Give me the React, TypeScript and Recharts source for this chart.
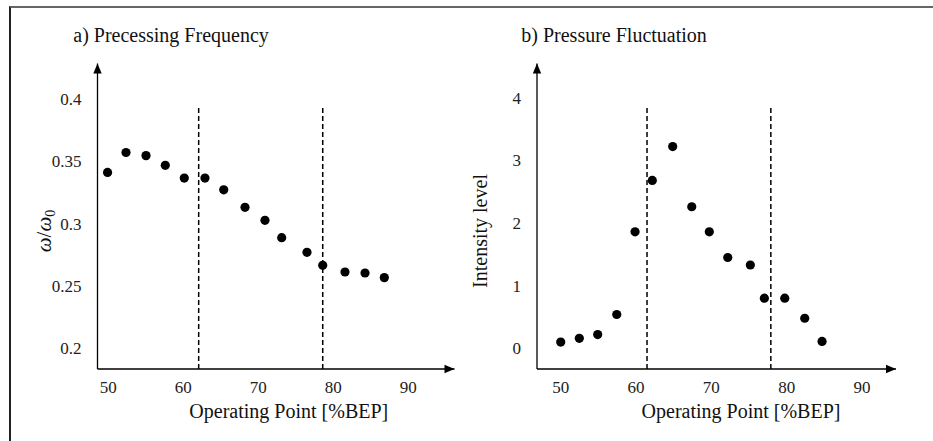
import React from 'react';
import { ScatterChart, Scatter, XAxis, YAxis, ReferenceLine, ReferenceDot, Label } from 'recharts';

// Panel a) Precessing Frequency
const freqX = [49.9, 52.36, 55.03, 57.6, 60.13, 62.89, 65.39, 68.23, 70.89, 73.12, 76.49, 78.59, 81.56, 84.23, 86.8];
const freqY = [0.341, 0.357, 0.3545, 0.3467, 0.3365, 0.3365, 0.327, 0.313, 0.3025, 0.2886, 0.2768, 0.2664, 0.261, 0.2602, 0.2565];
const freqXTicks = [50, 60, 70, 80, 90];
const freqYTicks = [0.2, 0.25, 0.3, 0.35, 0.4];
const freqDashes = [62.05, 78.59];
const freqDashTop = 0.3936;

// Panel b) Pressure Fluctuation
const pressX = [50.0, 52.47, 54.91, 57.44, 59.87, 62.16, 64.87, 67.4, 69.73, 72.18, 75.18, 77.04, 79.75, 82.4, 84.7];
const pressY = [0.1, 0.16, 0.22, 0.54, 1.86, 2.68, 3.22, 2.26, 1.86, 1.45, 1.33, 0.8, 0.8, 0.48, 0.11];
const pressXTicks = [50, 60, 70, 80, 90];
const pressYTicks = [0, 1, 2, 3, 4];
const pressDashes = [61.46, 77.9];
const pressDashTop = 3.86;

const FONT = 'Liberation Serif, DejaVu Serif, serif';
const fontStyle = { fontFamily: FONT };

const Dot = (p: any) => <circle cx={p.cx} cy={p.cy} r={4.6} fill="#000" />;

const ArrowRight = (p: any) => (
  <polygon points={`${p.cx},${p.cy} ${p.cx - 10},${p.cy - 4.2} ${p.cx - 10},${p.cy + 4.2}`} fill="#000" />
);
const ArrowUp = (p: any) => (
  <polygon points={`${p.cx},${p.cy} ${p.cx - 4.2},${p.cy + 10} ${p.cx + 4.2},${p.cy + 10}`} fill="#000" />
);

type PanelProps = {
  left: number;
  title: string;
  titleX: number;
  xs: number[];
  ys: number[];
  xTicks: number[];
  yTicks: number[];
  xDomain: [number, number];
  yDomain: [number, number];
  dashes: number[];
  dashTop: number;
  marginLeft: number;
  marginRight: number;
  xLabelOffset: number;
  yLabel: 'omega' | 'intensity';
  yLabelX: number;
};

const Panel = (pp: PanelProps) => {
  const data = pp.xs.map((x, i) => ({ x, y: pp.ys[i] }));
  const yLabelContent = () => {
    const cx = pp.yLabelX;
    const cy = 231;
    if (pp.yLabel === 'omega') {
      return (
        <text
          x={cx}
          y={cy}
          transform={`rotate(-90, ${cx}, ${cy})`}
          textAnchor="middle"
          style={fontStyle}
          fontSize={21}
          fill="#111"
        >
          <tspan fontStyle="italic">ω</tspan>
          <tspan>/</tspan>
          <tspan fontStyle="italic">ω</tspan>
          <tspan fontSize={14} dy={4}>0</tspan>
        </text>
      );
    }
    return (
      <text
        x={cx}
        y={cy}
        transform={`rotate(-90, ${cx}, ${cy})`}
        textAnchor="middle"
        style={fontStyle}
        fontSize={20}
        fill="#111"
      >
        Intensity level
      </text>
    );
  };
  const xLabelContent = (props: any) => {
    const vb = props.viewBox || {};
    return (
      <text
        x={vb.x + pp.xLabelOffset}
        y={vb.y + 48.7}
        textAnchor="middle"
        style={fontStyle}
        fontSize={20}
        fill="#111"
      >
        Operating Point [%BEP]
      </text>
    );
  };
  return (
    <div style={{ position: 'absolute', left: pp.left, top: 0, width: 470, height: 441 }}>
      <ScatterChart
        width={470}
        height={441}
        style={fontStyle}
        margin={{ top: 63.5, right: pp.marginRight, bottom: 12, left: pp.marginLeft }}
      >
        <text x={pp.titleX} y={41.7} style={fontStyle} fontSize={20} fill="#111">
          {pp.title}
        </text>
        <XAxis
          type="number"
          dataKey="x"
          domain={pp.xDomain}
          allowDataOverflow
          ticks={pp.xTicks}
          interval={0}
          tickLine={false}
          tickSize={0}
          tickMargin={12.3}
          height={60}
          axisLine={{ stroke: '#000', strokeWidth: 1.3 }}
          tick={{ style: fontStyle, fontSize: 17, fill: '#222' }}
        >
          <Label content={xLabelContent} />
        </XAxis>
        <YAxis
          type="number"
          dataKey="y"
          domain={pp.yDomain}
          allowDataOverflow
          ticks={pp.yTicks}
          interval={0}
          tickLine={false}
          tickSize={0}
          tickMargin={16}
          width={60}
          axisLine={{ stroke: '#000', strokeWidth: 1.3 }}
          tick={{ style: fontStyle, fontSize: 17, fill: '#222' }}
        >
          <Label content={yLabelContent} />
        </YAxis>
        {pp.dashes.map((d) => (
          <ReferenceLine
            key={d}
            segment={[
              { x: d, y: pp.yDomain[0] },
              { x: d, y: pp.dashTop },
            ]}
            stroke="#000"
            strokeWidth={1.5}
            strokeDasharray="5 3"
            ifOverflow="visible"
          />
        ))}
        <Scatter data={data} shape={Dot} isAnimationActive={false} />
        <ReferenceDot x={pp.xDomain[1]} y={pp.yDomain[0]} shape={ArrowRight} ifOverflow="visible" />
        <ReferenceDot x={pp.xDomain[0]} y={pp.yDomain[1]} shape={ArrowUp} ifOverflow="visible" />
      </ScatterChart>
    </div>
  );
};

export default function App() {
  return (
    <div style={{ position: 'absolute', left: 0, top: 0, width: 933, height: 441, overflow: 'hidden', background: '#fff', fontFamily: FONT }}>
      <div
        style={{
          position: 'absolute',
          left: 9,
          top: 6,
          width: 930,
          height: 440,
          borderTop: '2px solid #666',
          borderLeft: '2px solid #222',
        }}
      />
      <Panel
        left={0}
        title="a) Precessing Frequency"
        titleX={73.3}
        xs={freqX}
        ys={freqY}
        xTicks={freqXTicks}
        yTicks={freqYTicks}
        xDomain={[48.56, 96.16]}
        yDomain={[0.1831, 0.4285]}
        dashes={freqDashes}
        dashTop={freqDashTop}
        marginLeft={37.5}
        marginRight={15.5}
        xLabelOffset={191.3}
        yLabel="omega"
        yLabelX={51}
      />
      <Panel
        left={463}
        title="b) Pressure Fluctuation"
        titleX={58.3}
        xs={pressX}
        ys={pressY}
        xTicks={pressXTicks}
        yTicks={pressYTicks}
        xDomain={[46.85, 94.52]}
        yDomain={[-0.33, 4.546]}
        dashes={pressDashes}
        dashTop={pressDashTop}
        marginLeft={14}
        marginRight={37}
        xLabelOffset={204}
        yLabel="intensity"
        yLabelX={24}
      />
    </div>
  );
}
